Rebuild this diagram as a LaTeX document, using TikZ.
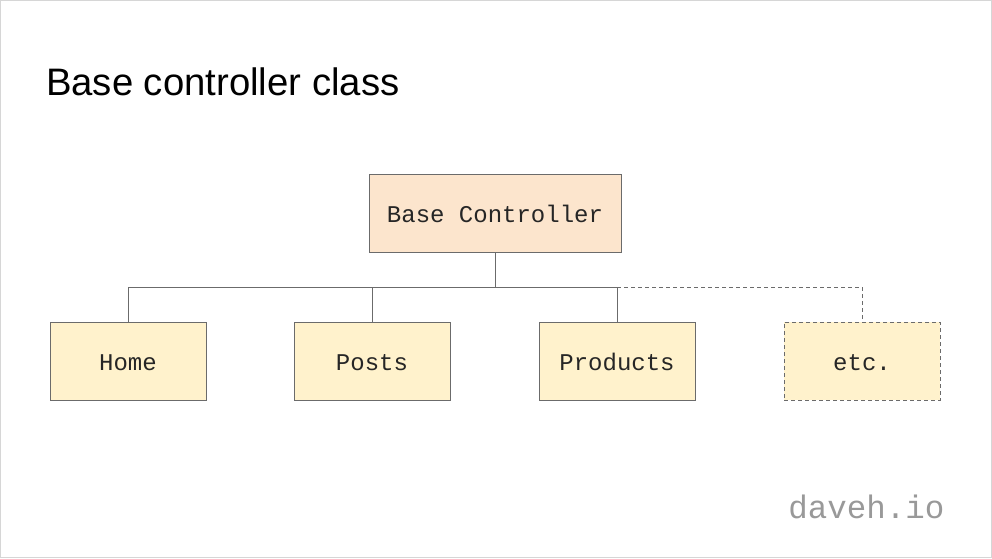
\documentclass[tikz,border=0pt]{standalone}
\usepackage{fontspec}
\setmainfont{Liberation Sans}
\setmonofont{Liberation Mono}
\definecolor{baseFill}{HTML}{FCE5CD}
\definecolor{childFill}{HTML}{FFF2CC}
\definecolor{edgeGray}{HTML}{6B6B6B}
\definecolor{frameGray}{HTML}{D6D6D6}
\definecolor{logoGray}{HTML}{999999}
\begin{document}
\begin{tikzpicture}[x=1pt,y=-1pt,
  box/.style={draw=edgeGray, line width=1pt, minimum width=156pt, minimum height=78pt, inner sep=0pt,
    font=\ttfamily\fontsize{24}{28}\selectfont, text=black!85, text height=20pt, text depth=2pt},
  basebox/.style={box, fill=baseFill, minimum width=252pt},
  childbox/.style={box, fill=childFill},
  conn/.style={draw=edgeGray, line width=1pt},
  dconn/.style={conn, dash pattern=on 4pt off 3pt}
]
\useasboundingbox (0,0) rectangle (992,558);
\draw[frameGray, line width=1pt] (0.5,0.5) rectangle (991.5,557.5);
\node[anchor=base west, font=\fontsize{38.3}{44}\selectfont] (title) at (42.5,95) {Base controller class};
\node[basebox] (base) at (495,213) {Base Controller};
\node[childbox] (home) at (128,361) {Home};
\node[childbox] (posts) at (372,361) {Posts};
\node[childbox] (products) at (617,361) {Products};
\node[childbox, dash pattern=on 4pt off 3pt] (etc) at (862,361) {etc.};
\coordinate (bus) at (495,287);
\coordinate (busL) at (128,287);
\coordinate (busR) at (617,287);
\coordinate (busE) at (862,287);
\draw[conn] (base.south) -- (bus);
\draw[conn] (home.north) -- (busL) -- (busR) -- (products.north);
\draw[conn] (posts.north) -- (posts.north |- bus);
\draw[dconn] (busR) -- (busE) -- (etc.north);
\node[anchor=base east, font=\ttfamily\fontsize{32.5}{36}\selectfont, text=logoGray] (logo) at (948,518) {daveh.io};
\end{tikzpicture}
\end{document}
